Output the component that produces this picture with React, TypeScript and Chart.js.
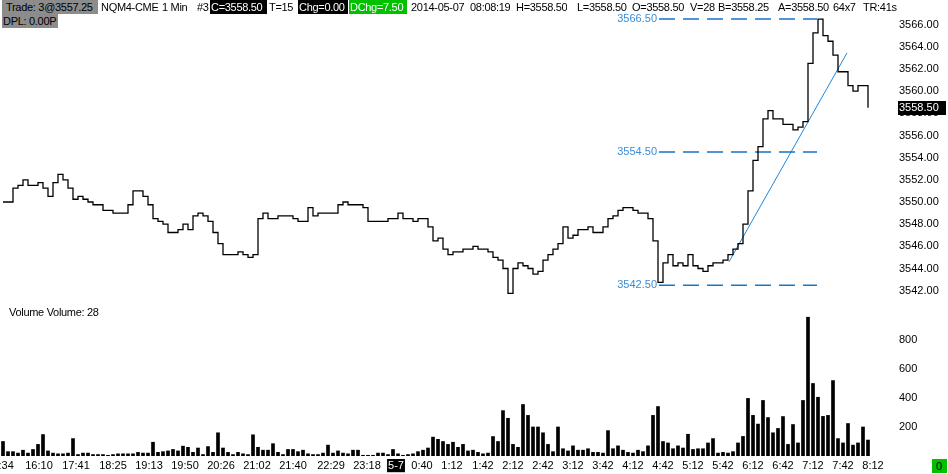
import React, { useEffect, useRef } from 'react';
import { Chart, registerables } from 'chart.js';

Chart.register(...registerables);

const FONT = '"Liberation Sans", Arial, sans-serif';

// ---- data ----
const FIRST_BAR = 3;
const BAR_STEP = 5;

const closePrices = [
  3550.0, 3550.0, 3551.25, 3551.5, 3552.0, 3551.5, 3551.5, 3551.75, 3551.25, 3550.5,
  3551.75, 3552.5, 3552.0, 3551.25, 3550.25, 3550.5, 3550.25, 3550.0, 3549.75, 3549.75,
  3549.25, 3549.25, 3549.0, 3549.0, 3549.0, 3549.75, 3551.0, 3551.0, 3550.5, 3549.75,
  3548.5, 3548.25, 3548.0, 3547.25, 3547.25, 3547.5, 3548.0, 3547.5, 3548.75, 3549.0,
  3548.75, 3548.25, 3547.25, 3546.25, 3545.25, 3545.25, 3545.25, 3545.5, 3545.25, 3545.0,
  3545.25, 3548.5, 3549.0, 3548.5, 3548.5, 3548.75, 3548.75, 3548.75, 3548.5, 3548.25,
  3548.25, 3549.5, 3548.75, 3549.0, 3549.0, 3549.0, 3549.0, 3549.75, 3550.0, 3549.75,
  3549.75, 3549.75, 3549.5, 3548.25, 3548.25, 3548.25, 3548.25, 3548.5, 3548.5, 3549.0,
  3548.5, 3548.5, 3548.25, 3548.5, 3548.5, 3547.75, 3546.5, 3546.75, 3545.75, 3545.25,
  3545.5, 3545.5, 3545.75, 3545.75, 3546.0, 3545.75, 3545.75, 3545.5, 3545.0, 3544.75,
  3544.0, 3541.75, 3544.0, 3544.5, 3544.25, 3544.0, 3543.5, 3543.75, 3544.75, 3545.25,
  3545.75, 3546.25, 3547.75, 3546.75, 3547.0, 3547.5, 3547.5, 3547.75, 3547.25, 3547.25,
  3547.75, 3548.5, 3548.75, 3549.25, 3549.5, 3549.5, 3549.25, 3549.0, 3549.0, 3548.5,
  3546.5, 3542.75, 3544.5, 3545.25, 3544.25, 3544.5, 3544.25, 3545.25, 3544.25, 3544.0,
  3543.75, 3544.25, 3544.5, 3544.5, 3544.75, 3545.25, 3545.75, 3546.25, 3548.0, 3551.0,
  3553.75, 3555.0, 3557.5, 3558.25, 3557.5, 3557.5, 3557.0, 3557.0, 3556.5, 3556.75,
  3557.25, 3562.5, 3565.25, 3566.5, 3565.0, 3564.5, 3563.25, 3561.75, 3561.75, 3560.5,
  3560.0, 3560.5, 3560.5, 3558.5,
];

const volumes = [
  100, 30, 30, 20, 40, 20, 45, 80, 148, 35,
  20, 15, 15, 20, 120, 10, 20, 20, 10, 10,
  10, 5, 10, 15, 15, 15, 15, 25, 20, 20,
  95, 25, 30, 35, 45, 35, 68, 60, 25, 55,
  10, 65, 25, 160, 55, 25, 10, 25, 15, 10,
  146, 60, 40, 40, 85, 25, 10, 45, 45, 30,
  40, 15, 10, 10, 20, 75, 20, 35, 20, 15,
  40, 40, 5, 5, 5, 20, 20, 10, 45, 15,
  5, 10, 15, 30, 40, 55, 130, 115, 100, 80,
  95, 60, 80, 35, 40, 25, 15, 20, 134, 100,
  313, 260, 80, 60, 355, 280, 200, 200, 160, 80,
  30, 200, 50, 35, 70, 40, 40, 50, 25, 25,
  20, 175, 50, 70, 40, 25, 20, 40, 30, 70,
  280, 341, 100, 90, 50, 70, 55, 150, 45, 50,
  50, 90, 120, 20, 25, 20, 30, 90, 135, 397,
  280, 220, 383, 265, 160, 190, 272, 80, 217, 90,
  383, 957, 500, 405, 273, 280, 520, 120, 90, 224,
  75, 90, 200, 110,
];

const priceTicks = [3542, 3544, 3546, 3548, 3550, 3552, 3554, 3556, 3558, 3560, 3562, 3564, 3566];
const volumeTicks = [200, 400, 600, 800];

const timeLabels = [
  '15:34', '16:10', '17:41', '18:25', '19:13', '19:50', '20:26', '21:02', '21:40', '22:29',
  '23:18', '5-7', '0:40', '1:12', '1:42', '2:12', '2:42', '3:12', '3:42', '4:12',
  '4:42', '5:12', '5:42', '6:12', '6:42', '7:12', '7:42', '8:12',
];
const timeLabelBars = [
  0, 39, 76, 113, 149, 185, 221, 257, 293, 331,
  367, 396, 422, 452, 483, 513, 543, 573, 603, 633,
  663, 693, 723, 753, 783, 813, 843, 873,
];

const levelPrices = [3566.5, 3554.5, 3542.5];
const levelBars = [659, 817];
const trendBars = [729, 847];
const trendPrices = [3544.6, 3563.45];
const lastPrice = 3558.5;

const PRICE_MIN = 3541.25;
const PRICE_MAX = 3567.5;
const VOL_MAX = 1048;
const X_MAX = 893;

const barIndex = (i: number) => FIRST_BAR + i * BAR_STEP;

const priceOverlay = {
  id: 'priceOverlay',
  afterDatasetsDraw(chart: any) {
    const { ctx } = chart;
    const xs = chart.scales.x;
    const ys = chart.scales.y;
    ctx.save();
    ctx.font = `11px ${FONT}`;
    ctx.textBaseline = 'middle';
    ctx.textAlign = 'right';
    ctx.fillStyle = '#3a8dd6';
    const x0 = xs.getPixelForValue(levelBars[0]);
    levelPrices.forEach((p) => ctx.fillText(p.toFixed(2), x0 - 2, ys.getPixelForValue(p)));
    ctx.restore();
  },
  afterDraw(chart: any) {
    const { ctx, chartArea } = chart;
    const ys = chart.scales.y;
    const y = Math.round(ys.getPixelForValue(lastPrice));
    ctx.save();
    ctx.fillStyle = '#000';
    ctx.fillRect(chartArea.right + 5, y - 7, 48, 14);
    ctx.font = `11px ${FONT}`;
    ctx.textBaseline = 'middle';
    ctx.textAlign = 'left';
    ctx.fillStyle = '#fff';
    ctx.fillText(lastPrice.toFixed(2), chartArea.right + 6, y);
    ctx.restore();
  },
};

const Tok = (p: { x: number; y: number; text: string; bg?: string; color?: string; w?: number; pad?: number }) => (
  <span
    style={{
      position: 'absolute',
      left: p.x,
      top: p.y,
      height: 14,
      lineHeight: '14px',
      width: p.w,
      paddingLeft: p.pad ?? 0,
      boxSizing: 'border-box',
      background: p.bg,
      color: p.color ?? '#000',
      whiteSpace: 'nowrap',
      overflow: 'hidden',
      letterSpacing: '-0.3px',
    }}
  >
    {p.text}
  </span>
);

export default function App() {
  const priceRef = useRef<HTMLCanvasElement>(null);
  const volRef = useRef<HTMLCanvasElement>(null);

  useEffect(() => {
    document.body.style.margin = '0';
    const tickFont = { family: FONT, size: 11 };

    const priceChart = new Chart(priceRef.current as HTMLCanvasElement, {
      type: 'line',
      data: {
        datasets: [
          {
            data: closePrices.map((p, i) => ({ x: barIndex(i), y: p })),
            borderColor: '#000',
            borderWidth: 1.3,
            stepped: true,
            pointRadius: 0,
          },
          ...levelPrices.map((lp) => ({
            data: levelBars.map((b) => ({ x: b, y: lp })),
            borderColor: '#1676c6',
            borderWidth: 1.5,
            borderDash: [16, 8],
            pointRadius: 0,
          })),
          {
            data: trendBars.map((b, i) => ({ x: b, y: trendPrices[i] })),
            borderColor: '#1e86e0',
            borderWidth: 1,
            pointRadius: 0,
          },
        ],
      } as any,
      options: {
        animation: false,
        responsive: false,
        events: [],
        layout: { padding: { top: 8, bottom: 1, left: 0, right: 0 } },
        plugins: { legend: { display: false }, tooltip: { enabled: false } },
        scales: {
          x: { type: 'linear', min: 0, max: X_MAX, display: false },
          y: {
            position: 'right',
            min: PRICE_MIN,
            max: PRICE_MAX,
            grid: { display: false, drawTicks: false },
            border: { display: false },
            ticks: {
              font: tickFont,
              color: '#000',
              padding: 6,
              callback: (v: any) => Number(v).toFixed(2),
            },
            afterBuildTicks: (s: any) => {
              s.ticks = priceTicks.map((v) => ({ value: v }));
            },
            afterFit: (s: any) => {
              s.width = 55;
              s.paddingTop = 0;
              s.paddingBottom = 0;
            },
          },
        },
      } as any,
      plugins: [priceOverlay],
    });

    const volChart = new Chart(volRef.current as HTMLCanvasElement, {
      type: 'bar',
      data: {
        datasets: [
          {
            data: volumes.map((v, i) => ({ x: barIndex(i), y: v })),
            backgroundColor: '#000',
            borderWidth: 0,
            barThickness: 3,
          },
        ],
      } as any,
      options: {
        animation: false,
        responsive: false,
        events: [],
        layout: { padding: 0 },
        plugins: { legend: { display: false }, tooltip: { enabled: false } },
        scales: {
          x: {
            type: 'linear',
            min: 0,
            max: X_MAX,
            offset: false,
            grid: { display: false, drawTicks: false, offset: false },
            border: { display: false },
            ticks: {
              autoSkip: false,
              maxRotation: 0,
              minRotation: 0,
              padding: 3,
              font: tickFont,
              color: (c: any) => (timeLabels[c.index] === '5-7' ? '#fff' : '#000'),
              showLabelBackdrop: (c: any) => timeLabels[c.index] === '5-7',
              backdropColor: (c: any) => (timeLabels[c.index] === '5-7' ? '#000' : 'rgba(0,0,0,0)'),
              backdropPadding: { top: 0, bottom: 0, left: 1, right: 1 },
              callback: (_v: any, i: number) => timeLabels[i],
            },
            afterBuildTicks: (s: any) => {
              s.ticks = timeLabelBars.map((v) => ({ value: v }));
            },
            afterFit: (s: any) => {
              s.height = 18;
              s.paddingLeft = 0;
              s.paddingRight = 0;
            },
          },
          y: {
            position: 'right',
            min: 0,
            max: VOL_MAX,
            grid: { display: false, drawTicks: false },
            border: { display: false },
            ticks: {
              font: tickFont,
              color: '#000',
              padding: 6,
              callback: (v: any) => String(v),
            },
            afterBuildTicks: (s: any) => {
              s.ticks = volumeTicks.map((v) => ({ value: v }));
            },
            afterFit: (s: any) => {
              s.width = 55;
              s.paddingTop = 0;
              s.paddingBottom = 0;
            },
          },
        },
      } as any,
    });

    return () => {
      priceChart.destroy();
      volChart.destroy();
    };
  }, []);

  return (
    <div
      style={{
        position: 'fixed',
        left: 0,
        top: 0,
        width: 948,
        height: 474,
        background: '#fff',
        overflow: 'hidden',
        fontFamily: FONT,
        fontSize: 11,
      }}
    >
      <canvas ref={priceRef} width={948} height={300} style={{ position: 'absolute', left: 0, top: 0 }} />
      <canvas ref={volRef} width={948} height={170} style={{ position: 'absolute', left: 0, top: 304 }} />

      <Tok x={2} y={0} w={96} pad={4} bg="#8c8c8c" text="Trade: 3@3557.25" />
      <Tok x={2} y={14} w={56} pad={1} bg="#8c8c8c" text="DPL: 0.00P" />
      <Tok x={101} y={0} text="NQM4-CME" />
      <Tok x={162} y={0} text="1 Min" />
      <Tok x={197} y={0} text="#3" />
      <Tok x={210} y={0} w={57} pad={1} bg="#000" color="#fff" text="C=3558.50" />
      <Tok x={269} y={0} text="T=15" />
      <Tok x={298} y={0} w={50} pad={1} bg="#000" color="#fff" text="Chg=0.00" />
      <Tok x={349} y={0} w={58} pad={1} bg="#00c000" color="#fff" text="DChg=7.50" />
      <Tok x={411} y={0} text="2014-05-07" />
      <Tok x={470} y={0} text="08:08:19" />
      <Tok x={516} y={0} text="H=3558.50" />
      <Tok x={577} y={0} text="L=3558.50" />
      <Tok x={632} y={0} text="O=3558.50" />
      <Tok x={690} y={0} text="V=28" />
      <Tok x={718} y={0} text="B=3558.25" />
      <Tok x={778} y={0} text="A=3558.50" />
      <Tok x={833} y={0} text="64x7" />
      <Tok x={863} y={0} text="TR:41s" />

      <Tok x={9} y={305} text="Volume  Volume: 28" />
      <Tok x={932} y={459} w={15} pad={4} bg="#00c000" text="0" />
    </div>
  );
}
